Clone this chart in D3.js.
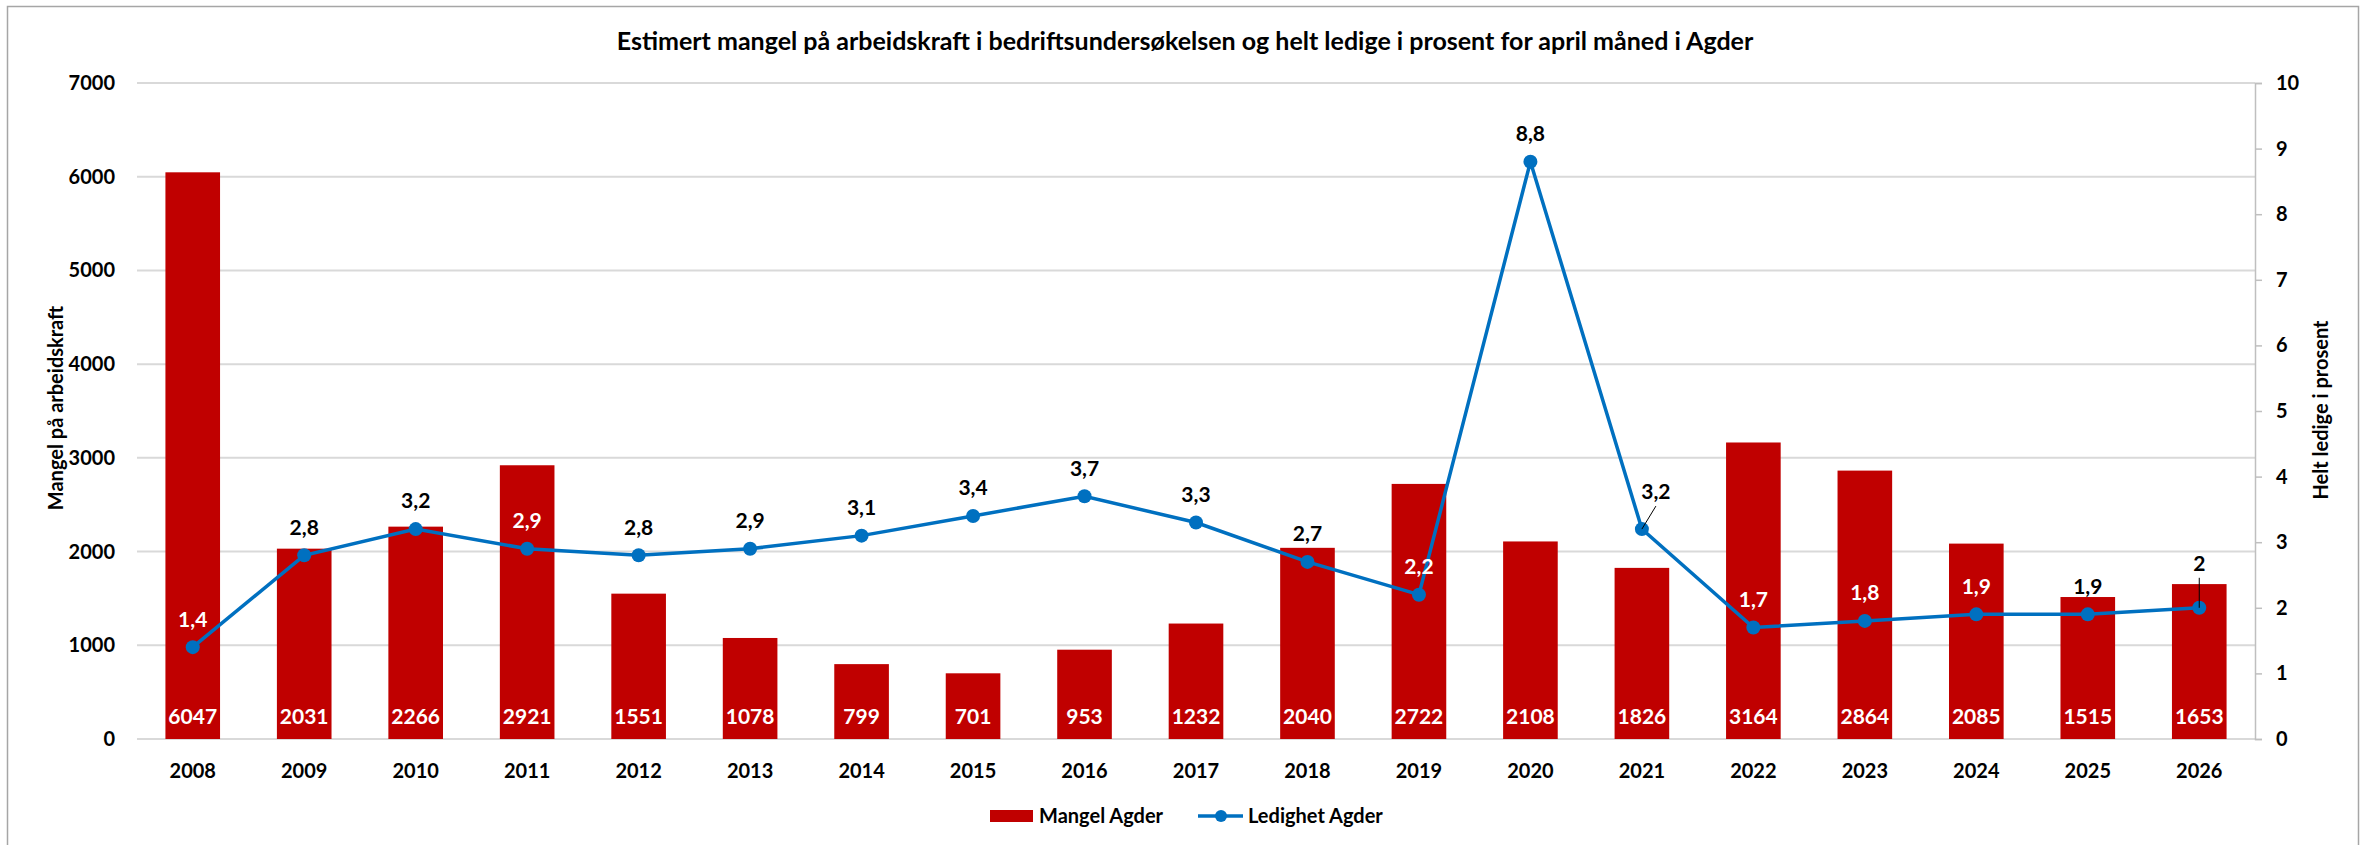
<!DOCTYPE html>
<html>
<head>
<meta charset="utf-8">
<script src="https://cdn.jsdelivr.net/npm/d3@7"></script>
<style>
  body { margin: 0; background: #fff; }
  text { font-family: Lato, "Open Sans", sans-serif; font-weight: bold; }
</style>
</head>
<body>
<div id="vis"></div>
<script>
var years = ["2008","2009","2010","2011","2012","2013","2014","2015","2016","2017","2018","2019","2020","2021","2022","2023","2024","2025","2026"];
var mangel = [6047,2031,2266,2921,1551,1078,799,701,953,1232,2040,2722,2108,1826,3164,2864,2085,1515,1653];
var ledighet = [1.4,2.8,3.2,2.9,2.8,2.9,3.1,3.4,3.7,3.3,2.7,2.2,8.8,3.2,1.7,1.8,1.9,1.9,2];
var leftTicks = [0,1000,2000,3000,4000,5000,6000,7000];
var rightTicks = [0,1,2,3,4,5,6,7,8,9,10];

var W = 2369, H = 845;
var plot = {left: 137, right: 2255, top: 83, bottom: 739};

var svg = d3.select("#vis").append("svg")
    .attr("width", W).attr("height", H);

// frame
svg.append("rect").attr("x", 7.5).attr("y", 6.5).attr("width", 2351).attr("height", 845)
    .attr("fill", "none").attr("stroke", "#a6a6a6").attr("stroke-width", 1.5);

var x = d3.scaleBand().domain(years).range([plot.left, plot.right]).padding(0);
var yL = d3.scaleLinear().domain([0, 7000]).range([plot.bottom, plot.top]);
var yR = d3.scaleLinear().domain([0, 10]).range([plot.bottom, plot.top]);
var barW = x.bandwidth() * 0.49;
var cx = function(i) { return x(years[i]) + x.bandwidth() / 2; };

// gridlines
svg.append("g").selectAll("line").data(leftTicks).enter().append("line")
    .attr("x1", plot.left).attr("x2", plot.right)
    .attr("y1", function(d) { return yL(d); }).attr("y2", function(d) { return yL(d); })
    .attr("stroke", "#d9d9d9").attr("stroke-width", 2);

// left axis labels
svg.append("g").selectAll("text").data(leftTicks).enter().append("text")
    .attr("x", 115).attr("y", function(d) { return yL(d); }).attr("dy", "0.35em")
    .attr("text-anchor", "end").style("font-size", "20px").attr("fill", "#000")
    .text(function(d) { return d; });

// right axis
var rAxis = d3.axisRight(yR).tickValues(rightTicks).tickSize(7).tickPadding(14);
var ra = svg.append("g").attr("transform", "translate(" + plot.right + ",0)").call(rAxis);
ra.select(".domain").attr("stroke", "#bfbfbf").attr("stroke-width", 1.5);
ra.selectAll(".tick line").attr("stroke", "#bfbfbf").attr("stroke-width", 1.5);
ra.selectAll(".tick text").style("font-size", "20px").style("font-family", "Lato, sans-serif")
    .style("font-weight", "bold").attr("fill", "#000");

// bars
svg.append("g").selectAll("rect").data(mangel).enter().append("rect")
    .attr("x", function(d, i) { return cx(i) - barW / 2; })
    .attr("y", function(d) { return yL(d); })
    .attr("width", barW)
    .attr("height", function(d) { return plot.bottom - yL(d); })
    .attr("fill", "#c00000");

// bar labels
svg.append("g").selectAll("text").data(mangel).enter().append("text")
    .attr("x", function(d, i) { return cx(i); }).attr("y", 724)
    .attr("text-anchor", "middle").attr("fill", "#fff").style("font-size", "21px")
    .text(function(d) { return d; });

// x labels
svg.append("g").selectAll("text").data(years).enter().append("text")
    .attr("x", function(d, i) { return cx(i); }).attr("y", 778)
    .attr("text-anchor", "middle").attr("fill", "#000").style("font-size", "20px")
    .text(function(d) { return d; });

// line
var line = d3.line()
    .x(function(d, i) { return cx(i); })
    .y(function(d) { return yR(d); });
svg.append("path").datum(ledighet).attr("d", line)
    .attr("fill", "none").attr("stroke", "#0070c0").attr("stroke-width", 3.5);
svg.append("g").selectAll("circle").data(ledighet).enter().append("circle")
    .attr("cx", function(d, i) { return cx(i); }).attr("cy", function(d) { return yR(d); })
    .attr("r", 7).attr("fill", "#0070c0");

// line labels (some moved with leader lines)
var fmt = function(v) { return String(v).replace(".", ","); };
var offsets = {"2021": [14, -37], "2026": [0, -44]};
ledighet.forEach(function(v, i) {
  var off = offsets[years[i]] || [0, -28];
  var lx = cx(i) + off[0], ly = yR(v) + off[1];
  var inside = ly > yL(mangel[i]);
  if (offsets[years[i]]) {
    svg.append("line").attr("x1", cx(i)).attr("y1", yR(v))
      .attr("x2", lx).attr("y2", ly + 14)
      .attr("stroke", "#000").attr("stroke-width", 1);
  }
  svg.append("text").attr("x", lx).attr("y", ly).attr("dy", "0.35em")
    .attr("text-anchor", "middle").style("font-size", "21px")
    .attr("fill", inside ? "#fff" : "#000").text(fmt(v));
});

// axis titles
svg.append("text").attr("transform", "translate(56,408) rotate(-90)")
    .attr("text-anchor", "middle").attr("dy", "0.35em").style("font-size", "20px")
    .text("Mangel på arbeidskraft");
svg.append("text").attr("transform", "translate(2321,410) rotate(-90)")
    .attr("text-anchor", "middle").attr("dy", "0.35em").style("font-size", "20px")
    .text("Helt ledige i prosent");

// title
svg.append("text").attr("x", 1185).attr("y", 41).attr("dy", "0.35em")
    .attr("text-anchor", "middle").style("font-size", "25px")
    .text("Estimert mangel på arbeidskraft i bedriftsundersøkelsen og helt ledige i prosent for april måned i Agder");

// legend
var lg = svg.append("g").attr("transform", "translate(0,816)");
lg.append("rect").attr("x", 990).attr("y", -6).attr("width", 43).attr("height", 12).attr("fill", "#c00000");
lg.append("text").attr("x", 1039).attr("y", 0).attr("dy", "0.35em").style("font-size", "20px").text("Mangel Agder");
lg.append("line").attr("x1", 1198).attr("x2", 1243).attr("y1", 0).attr("y2", 0)
    .attr("stroke", "#0070c0").attr("stroke-width", 3.5);
lg.append("circle").attr("cx", 1221).attr("cy", 0).attr("r", 6).attr("fill", "#0070c0");
lg.append("text").attr("x", 1248).attr("y", 0).attr("dy", "0.35em").style("font-size", "20px").text("Ledighet Agder");
</script>
</body>
</html>
